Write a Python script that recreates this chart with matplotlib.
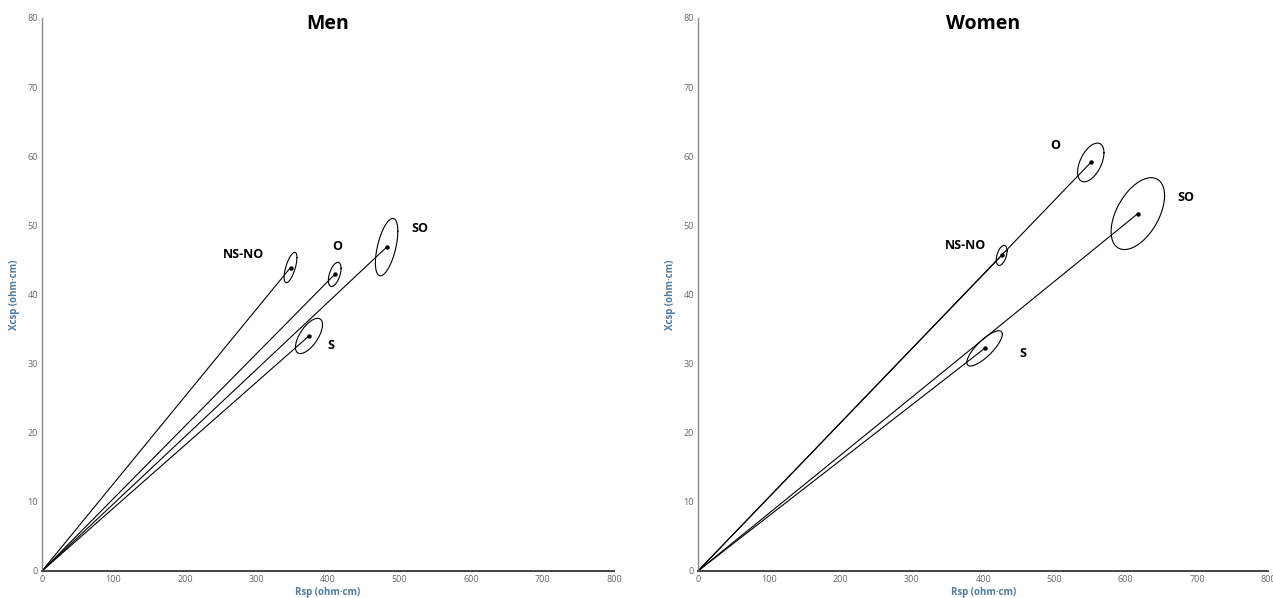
import numpy as np
import matplotlib
matplotlib.use("Agg")
import matplotlib.pyplot as plt

plt.rcParams['font.family'] = ['Open Sans', 'DejaVu Sans']

groups = ["NS-NO", "O", "SO", "S"]

# men: mean vector tips and confidence ellipse extents (half ranges) + tilt
men_r = [347.6, 409.4, 482.0, 373.4]
men_xc = [43.9, 42.9, 46.85, 34.0]
men_r_half = [9.0, 8.9, 15.7, 18.9]
men_xc_half = [2.2, 1.75, 4.15, 2.55]
men_rho = [0.65, 0.5, 0.55, 0.64]
men_lab_r = [282, 413, 528, 404]
men_lab_xc = [45.8, 47.0, 49.6, 32.6]

# women
women_r = [426.0, 551.0, 617.0, 402.0]
women_xc = [45.65, 59.1, 51.7, 32.2]
women_r_half = [7.6, 18.5, 37.5, 24.9]
women_xc_half = [1.45, 2.8, 5.2, 2.55]
women_rho = [0.45, 0.5, 0.5, 0.8]
women_lab_r = [375, 501, 684, 456]
women_lab_xc = [47.1, 61.5, 54.0, 31.5]

panels = [
    ("Men", men_r, men_xc, men_r_half, men_xc_half, men_rho, men_lab_r, men_lab_xc),
    ("Women", women_r, women_xc, women_r_half, women_xc_half, women_rho, women_lab_r, women_lab_xc),
]

fig = plt.figure(figsize=(12.73, 5.98), dpi=100)
axes = [fig.add_axes([0.033, 0.0452, 0.4493, 0.9247]),
        fig.add_axes([0.5483, 0.0452, 0.448, 0.9247])]

label_col = "#4f79a6"
t = np.linspace(0, 2 * np.pi, 200)

for ax, (title, r, xc, rh, xh, rho, lr, lxc) in zip(axes, panels):
    for i in range(len(groups)):
        ax.plot([0, r[i]], [0, xc[i]], color="black", lw=0.8)
        ax.plot(r[i], xc[i], "o", color="black", ms=2.2)
        phi = np.arccos(rho[i])
        ex = r[i] + rh[i] * np.cos(t)
        ey = xc[i] + xh[i] * np.cos(t - phi)
        ax.plot(ex, ey, color="black", lw=0.8)
        ax.text(lr[i], lxc[i], groups[i], ha="center", va="center",
                fontsize=9, fontweight="bold")
    ax.set_xlim(0, 800)
    ax.set_ylim(0, 80)
    ax.set_xticks(range(0, 801, 100))
    ax.set_yticks(range(0, 81, 10))
    ax.tick_params(length=0, labelsize=6.5, labelcolor="#666666", pad=3)
    for s in ["top", "right"]:
        ax.spines[s].set_visible(False)
    ax.spines["left"].set_color("#888888")
    ax.spines["left"].set_linewidth(1.0)
    ax.spines["bottom"].set_color("#444444")
    ax.spines["bottom"].set_linewidth(1.4)
    ax.set_xlabel("Rsp (ohm·cm)", fontsize=7, fontweight="bold", color=label_col, labelpad=2)
    ax.set_ylabel("Xcsp (ohm·cm)", fontsize=7, fontweight="bold", color=label_col, labelpad=5)
    ax.text(0.5, 0.99, title, transform=ax.transAxes, ha="center", va="center",
            fontsize=14, fontweight="bold")

fig.savefig("out.png", dpi=100, facecolor="white")
